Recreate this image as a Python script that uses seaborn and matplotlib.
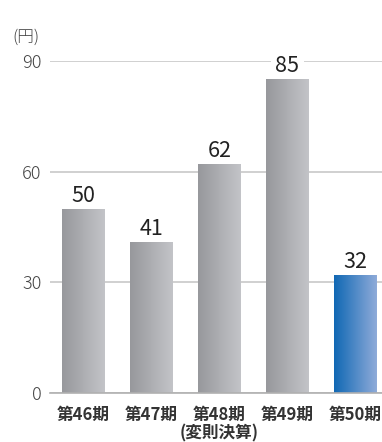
import numpy as np
import pandas as pd
import matplotlib
matplotlib.use("Agg")
import matplotlib.pyplot as plt
import seaborn as sns
from matplotlib.colors import LinearSegmentedColormap

categories = ["第46期", "第47期", "第48期\n(変則決算)", "第49期", "第50期"]
values = [50, 41, 62, 85, 32]
yticks = [0, 30, 60, 90]
unit_label = "(円)"

sns.set_theme(style="white")
plt.rcParams['font.family'] = ['Noto Sans CJK JP', 'DejaVu Sans']

fig = plt.figure(figsize=(3.82, 4.42), dpi=100)
ax = fig.add_axes([50/382, 49/442, 1 - 50/382, (393-61)/442])

df = pd.DataFrame({"cat": categories, "val": values})
sns.barplot(data=df, x="cat", y="val", ax=ax, color="#aaaaaa", width=0.63, saturation=1)

ax.set_ylim(0, 90)
ax.set_xlim(-0.49, 4.39)
ax.set_yticks(yticks)
ax.set_yticklabels([str(t) for t in yticks], fontsize=13, color="#444444", fontweight="light")
ax.tick_params(axis="y", length=0, pad=6)
ax.tick_params(axis="x", length=0, pad=9)
for lbl in ax.get_xticklabels():
    lbl.set_fontsize(12)
    lbl.set_fontweight("bold")
    lbl.set_color("#333333")
    lbl.set_linespacing(1.05)
ax.set_xlabel("")
ax.set_ylabel("")
ax.yaxis.grid(True, color="#c4c4c4", linewidth=1.1, zorder=0.5)
ax.set_axisbelow(True)
for s in ["top", "right", "left"]:
    ax.spines[s].set_visible(False)
ax.spines["bottom"].set_color("#b0b0b0")
ax.spines["bottom"].set_linewidth(1.2)

gray_cmap = LinearSegmentedColormap.from_list("g", ["#97989c", "#c3c4c8"])
blue_cmap = LinearSegmentedColormap.from_list("b", ["#1068b4", "#8fabd9"])
grad = np.linspace(0, 1, 256).reshape(1, -1)
for i, p in enumerate(ax.patches):
    x0, y0 = p.get_x(), p.get_y()
    w, h = p.get_width(), p.get_height()
    cmap = blue_cmap if i == len(values) - 1 else gray_cmap
    im = ax.imshow(grad, cmap=cmap, extent=[x0, x0 + w, y0, y0 + h],
                   aspect="auto", zorder=2, interpolation="bilinear")
    im.set_clip_path(p)
    p.set_facecolor("none")
    p.set_edgecolor("none")
    ax.annotate(str(values[i]), (x0 + w/2, y0 + h), xytext=(0, 5),
                textcoords="offset points", ha="center", va="baseline",
                fontsize=15.5, color="#222222", annotation_clip=False,
                bbox=dict(boxstyle="square,pad=0.2", fc="white", ec="none"),
                zorder=1.5)

ax.set_xlim(-0.49, 4.39)
ax.set_ylim(0, 90)

fig.text(12/382, 1 - 37/442, unit_label, fontsize=12, color="#444444",
         ha="left", va="center", fontweight="light")

fig.savefig("out.png", dpi=100, facecolor="white")
